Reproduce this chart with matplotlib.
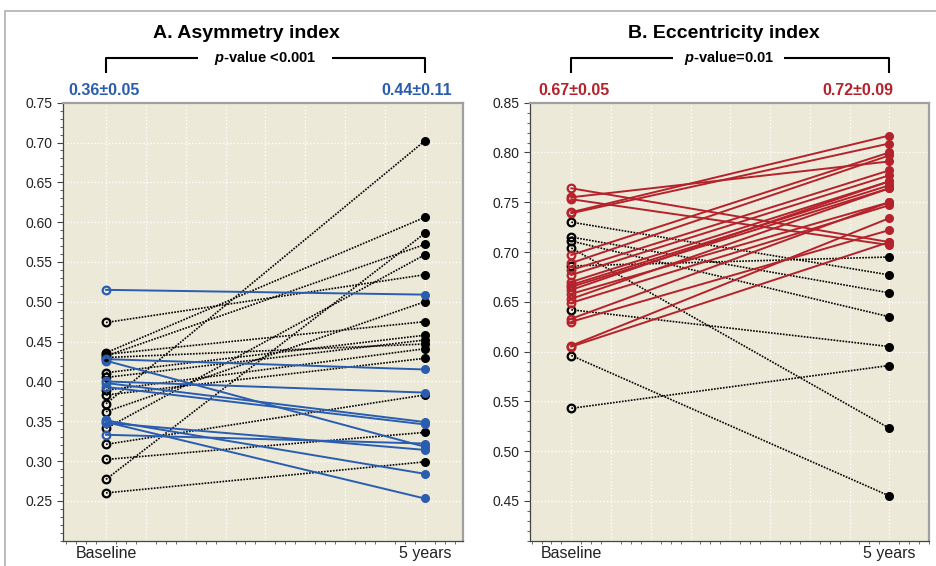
import numpy as np
import matplotlib
matplotlib.use("Agg")
import matplotlib.pyplot as plt
import matplotlib.transforms as mtransforms
from matplotlib.patches import Rectangle
from matplotlib.ticker import MultipleLocator

plt.rcParams['font.family'] = ['Liberation Sans', 'DejaVu Sans']
plt.rcParams['mathtext.fontset'] = 'custom'
plt.rcParams['mathtext.it'] = 'Liberation Sans:italic:bold'
plt.rcParams['mathtext.rm'] = 'Liberation Sans:bold'

# ---- data ----
time_labels = ["Baseline", "5 years"]

# A. Asymmetry index
asym_blue_base = [0.515, 0.428, 0.426, 0.400, 0.398, 0.393, 0.351, 0.349, 0.333, 0.348]
asym_blue_5y = [0.509, 0.415, 0.318, 0.386, 0.349, 0.346, 0.284, 0.253, 0.322, 0.314]
asym_black_base = [0.372, 0.277, 0.474, 0.436, 0.432, 0.341, 0.362, 0.434,
                   0.411, 0.405, 0.430, 0.389, 0.383, 0.321, 0.302, 0.260]
asym_black_5y = [0.702, 0.586, 0.534, 0.606, 0.572, 0.559, 0.500, 0.475,
                 0.458, 0.452, 0.447, 0.441, 0.429, 0.383, 0.336, 0.299]

# B. Eccentricity index
ecc_red_base = [0.764, 0.755, 0.753, 0.740, 0.739, 0.697, 0.689, 0.682, 0.677, 0.670,
                0.667, 0.665, 0.662, 0.658, 0.653, 0.649, 0.633, 0.630, 0.606, 0.605]
ecc_red_5y = [0.710, 0.791, 0.707, 0.817, 0.809, 0.800, 0.797, 0.782, 0.777, 0.771,
              0.767, 0.764, 0.771, 0.750, 0.764, 0.747, 0.750, 0.722, 0.734, 0.710]
ecc_black_base = [0.730, 0.715, 0.711, 0.704, 0.686, 0.642, 0.596, 0.543]
ecc_black_5y = [0.677, 0.659, 0.635, 0.523, 0.695, 0.605, 0.455, 0.586]

titles = ["A. Asymmetry index", "B. Eccentricity index"]
p_texts = [r"$\mathit{p}$-value <0.001", r"$\mathit{p}$-value=0.01"]
mean_texts = [("0.36±0.05", "0.44±0.11"), ("0.67±0.05", "0.72±0.09")]

BLUE = "#2a5db0"
RED = "#b5222b"
BG = "#ece9d8"


def draw_panel(ax, col_base, col_5y, blk_base, blk_5y, color, ylim, ymaj,
               xlim, title, ptxt, means, mean_x, title_x, gap):
    ax.set_facecolor(BG)
    x = [0, 1]
    # black dotted pairs
    for b, e in zip(blk_base, blk_5y):
        ax.plot(x, [b, e], color="black", ls=(0, (1, 0.8)), lw=1.2, zorder=2)
        ax.plot(0, b, "o", ms=5.5, mfc="none", mec="black", mew=1.6, zorder=4)
        ax.plot(1, e, "o", ms=5.5, color="black", zorder=4)
    # coloured pairs
    for b, e in zip(col_base, col_5y):
        ax.plot(x, [b, e], color=color, lw=1.4, zorder=3)
        ax.plot(0, b, "o", ms=5.5, mfc="none", mec=color, mew=1.6, zorder=5)
        ax.plot(1, e, "o", ms=5.5, color=color, zorder=5)

    ax.set_xlim(*xlim)
    ax.set_ylim(*ylim)
    ax.set_xticks(np.arange(0, 1.01, 1 / 8))
    ax.set_xticklabels([time_labels[0]] + [""] * 7 + [time_labels[1]], fontsize=11.5)
    ax.xaxis.set_minor_locator(MultipleLocator(1 / 32))
    ax.tick_params(axis="x", which="major", length=0, pad=3.5, colors="#222222")
    ax.tick_params(axis="x", which="minor", length=2, color="#555555")
    ax.yaxis.set_major_locator(MultipleLocator(0.05))
    ax.yaxis.set_minor_locator(MultipleLocator(0.01))
    ax.set_yticks(ymaj)
    ax.set_yticklabels([f"{v:.2f}" for v in ymaj], fontsize=10, color="#222222")
    ax.tick_params(axis="y", which="major", length=4, width=0.8, color="#444444")
    ax.tick_params(axis="y", which="minor", length=2.5, width=0.8, color="#666666")
    ax.grid(True, which="major", color="white", ls=(0, (1, 1.5)), lw=1.0)
    ax.set_axisbelow(True)
    for s in ["left", "bottom"]:
        ax.spines[s].set_color("#444444")
        ax.spines[s].set_linewidth(0.9)
    for s in ["top", "right"]:
        ax.spines[s].set_color("#a0a0a0")
        ax.spines[s].set_linewidth(1.6)

    tr = mtransforms.blended_transform_factory(ax.transData, ax.transAxes)
    ax.text(title_x, 1.159, title, transform=tr, ha="center", va="center",
            fontsize=14, fontweight="bold", color="black")
    # bracket
    kw = dict(transform=tr, color="black", lw=1.5, clip_on=False, solid_capstyle="butt")
    ax.plot([0, 0, gap[0]], [1.068, 1.102, 1.102], **kw)
    ax.plot([gap[1], 1, 1], [1.102, 1.102, 1.068], **kw)
    ax.text((gap[0] + gap[1]) / 2, 1.102, ptxt, transform=tr, ha="center",
            va="center", fontsize=10.5, fontweight="bold")
    ax.text(mean_x[0], 1.027, means[0], transform=tr, ha="center", va="center",
            fontsize=11.5, fontweight="bold", color=color)
    ax.text(mean_x[1], 1.027, means[1], transform=tr, ha="center", va="center",
            fontsize=11.5, fontweight="bold", color=color)


fig = plt.figure(figsize=(9.36, 5.66), dpi=100)
ax1 = fig.add_axes([63 / 936, 1 - 540.7 / 566, 400 / 936, 438 / 566])
ax2 = fig.add_axes([530 / 936, 1 - 540.7 / 566, 399 / 936, 438 / 566])

draw_panel(ax1, asym_blue_base, asym_blue_5y, asym_black_base, asym_black_5y, BLUE,
           (0.20, 0.75), np.round(np.arange(0.25, 0.751, 0.05), 2),
           (-0.135, 1.12), titles[0], p_texts[0], mean_texts[0],
           (-0.006, 0.975), 0.442, (0.29, 0.71))
draw_panel(ax2, ecc_red_base, ecc_red_5y, ecc_black_base, ecc_black_5y, RED,
           (0.41, 0.85), np.round(np.arange(0.45, 0.851, 0.05), 2),
           (-0.13, 1.125), titles[1], p_texts[1], mean_texts[1],
           (0.008, 0.90), 0.481, (0.32, 0.67))

# outer grey frame (top and left edges only visible)
fig.add_artist(Rectangle((5 / 936, -0.1), 1.2, 1.1 - 11 / 566, transform=fig.transFigure,
                         fill=False, edgecolor="#b0b0b0", lw=1.2))

fig.savefig("out.png", dpi=100)
